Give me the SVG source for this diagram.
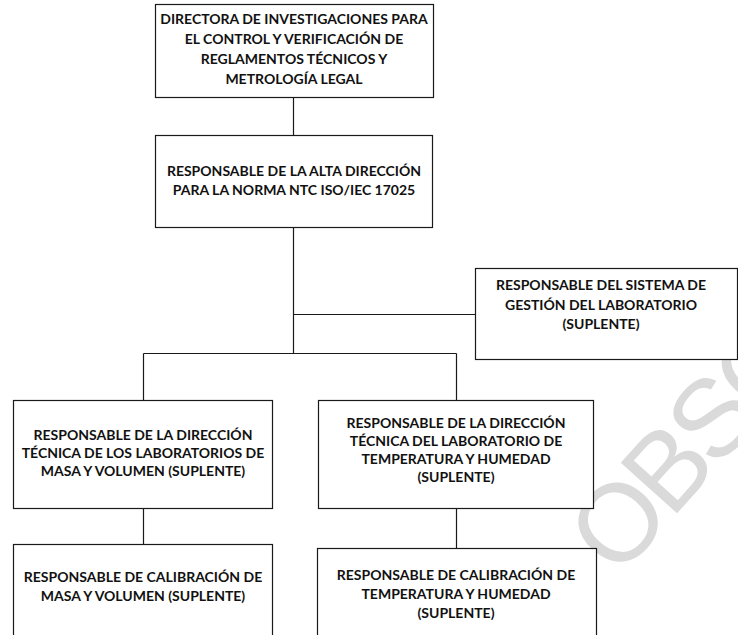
<svg xmlns="http://www.w3.org/2000/svg" width="738" height="635" viewBox="0 0 738 635">
<style>
.box{fill:#ffffff;stroke:#1a1a1a;stroke-width:1.2}
.t{font-family:Lato,"Liberation Sans",sans-serif;font-weight:700;font-size:14px;fill:#111;text-anchor:middle}
.c{stroke:#1a1a1a;stroke-width:1.2;fill:none}
.wm{font-family:"Liberation Sans",Arial,sans-serif;font-size:110px;letter-spacing:-6px;fill:#dadada}
</style>
<rect width="738" height="635" fill="#ffffff"/>
<text class="wm" transform="translate(617.7,579.2) rotate(-48)">OBSO</text>
<g id="connectors">
<path class="c" d="M293.5 97V135M293.5 227V353.5M293.5 314.5H475M143.5 353.5H456.5M143.5 353.5V400M456.5 353.5V400M143.5 508V544M456.5 508V548"/>
</g>
<g id="n1"><rect class="box" x="155.5" y="4.5" width="278" height="93"/>
<text class="t" x="294" y="24">DIRECTORA DE INVESTIGACIONES PARA</text>
<text class="t" x="294" y="44">EL CONTROL Y VERIFICACIÓN DE</text>
<text class="t" x="294" y="64">REGLAMENTOS TÉCNICOS Y</text>
<text class="t" x="294" y="84">METROLOGÍA LEGAL</text></g>
<g id="n2"><rect class="box" x="155.5" y="135.5" width="277" height="92"/>
<text class="t" x="294" y="176">RESPONSABLE DE LA ALTA DIRECCIÓN</text>
<text class="t" x="294" y="195">PARA LA NORMA NTC ISO/IEC 17025</text></g>
<g id="n3"><rect class="box" x="475.5" y="268.5" width="262" height="91"/>
<text class="t" x="601" y="290">RESPONSABLE DEL SISTEMA DE</text>
<text class="t" x="601" y="310">GESTIÓN DEL LABORATORIO</text>
<text class="t" x="601" y="329">(SUPLENTE)</text></g>
<g id="n4"><rect class="box" x="13.5" y="400.5" width="259" height="108"/>
<text class="t" x="143" y="440">RESPONSABLE DE LA DIRECCIÓN</text>
<text class="t" x="143" y="458">TÉCNICA DE LOS LABORATORIOS DE</text>
<text class="t" x="143" y="476">MASA Y VOLUMEN (SUPLENTE)</text></g>
<g id="n5"><rect class="box" x="318.5" y="400.5" width="275" height="108"/>
<text class="t" x="456" y="428">RESPONSABLE DE LA DIRECCIÓN</text>
<text class="t" x="456" y="446">TÉCNICA DEL LABORATORIO DE</text>
<text class="t" x="456" y="464">TEMPERATURA Y HUMEDAD</text>
<text class="t" x="456" y="482">(SUPLENTE)</text></g>
<g id="n6"><rect class="box" x="13.5" y="544.5" width="259" height="100"/>
<text class="t" x="143" y="582">RESPONSABLE DE CALIBRACIÓN DE</text>
<text class="t" x="143" y="601">MASA Y VOLUMEN (SUPLENTE)</text></g>
<g id="n7"><rect class="box" x="317.5" y="548.5" width="279" height="100"/>
<text class="t" x="456" y="580">RESPONSABLE DE CALIBRACIÓN DE</text>
<text class="t" x="456" y="599">TEMPERATURA Y HUMEDAD</text>
<text class="t" x="456" y="618">(SUPLENTE)</text></g>
</svg>
